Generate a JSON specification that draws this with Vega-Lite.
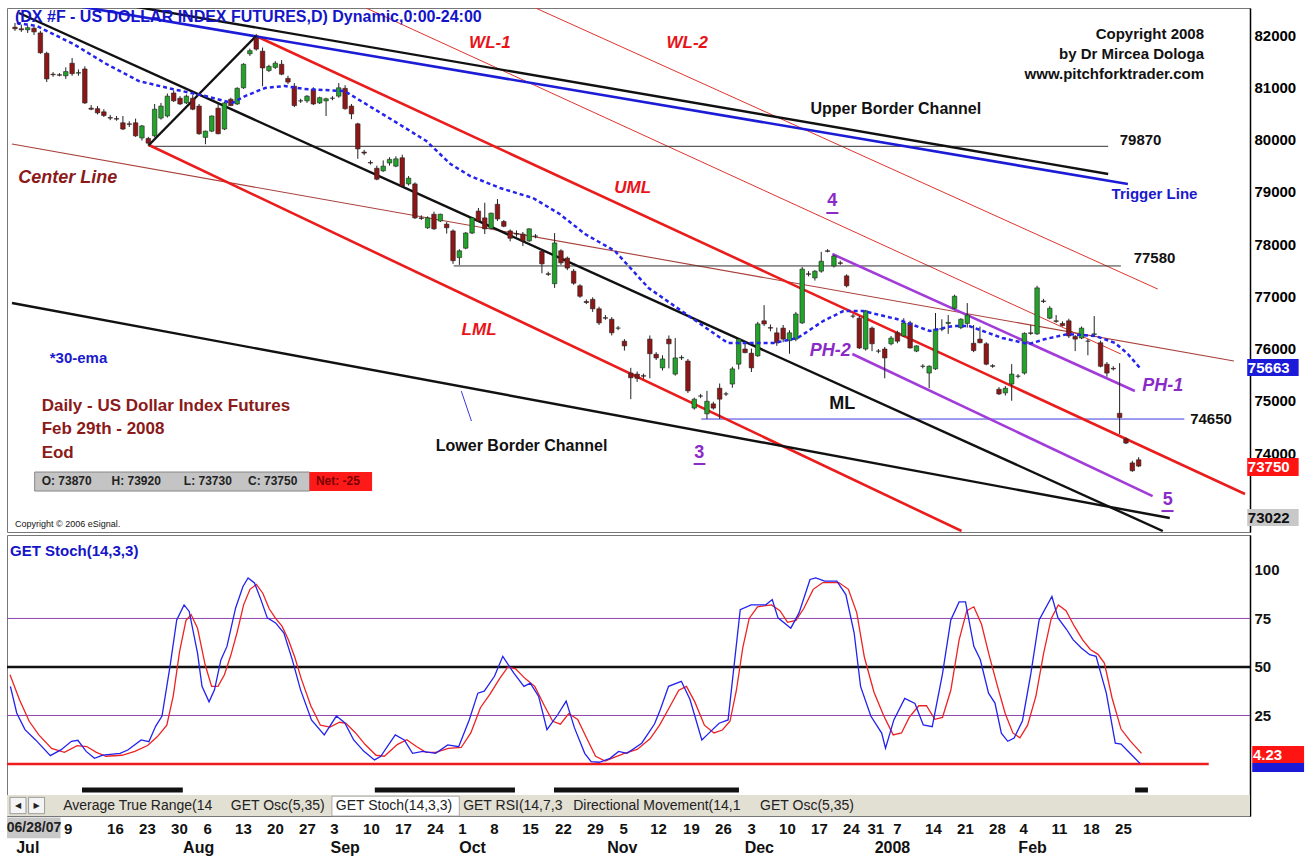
{
"$schema": "https://vega.github.io/schema/vega-lite/v6.json",
"background": "white",
"padding": {"left": 5, "top": 7, "right": 0, "bottom": 0},
"spacing": 1,
"config": {"view": {"stroke": "#777", "strokeWidth": 1}, "axis": {"grid": false, "zindex": 1}, "text": {"font": "Liberation Sans"}},
"datasets": {
"candles": [
{"i":0,"o":82150,"h":82230,"l":82080,"c":82120},{"i":1,"o":82120,"h":82200,"l":82060,"c":82100},{"i":2,"o":82100,"h":82180,"l":82040,"c":82140},{"i":3,"o":82130,"h":82160,"l":82000,"c":82060},{"i":4,"o":82040,"h":82080,"l":81640,"c":81660},{"i":5,"o":81650,"h":81680,"l":81100,"c":81160},{"i":6,"o":81250,"h":81290,"l":81200,"c":81240},{"i":7,"o":81240,"h":81270,"l":81210,"c":81230},{"i":8,"o":81220,"h":81380,"l":81160,"c":81300},{"i":9,"o":81460,"h":81560,"l":81220,"c":81260},
{"i":10,"o":81270,"h":81340,"l":81220,"c":81280},{"i":11,"o":81350,"h":81400,"l":80680,"c":80700},{"i":12,"o":80600,"h":80660,"l":80560,"c":80580},{"i":13,"o":80590,"h":80640,"l":80480,"c":80510},{"i":14,"o":80530,"h":80580,"l":80430,"c":80460},{"i":15,"o":80420,"h":80470,"l":80370,"c":80410},{"i":16,"o":80400,"h":80450,"l":80360,"c":80390},{"i":17,"o":80320,"h":80450,"l":80180,"c":80200},{"i":18,"o":80300,"h":80350,"l":80240,"c":80290},{"i":19,"o":80320,"h":80400,"l":80050,"c":80070},
{"i":20,"o":80030,"h":80280,"l":79980,"c":80260},{"i":21,"o":80020,"h":80050,"l":79870,"c":79930},{"i":22,"o":80070,"h":80680,"l":80040,"c":80580},{"i":23,"o":80410,"h":80700,"l":80380,"c":80640},{"i":24,"o":80450,"h":80880,"l":80420,"c":80830},{"i":25,"o":80890,"h":80940,"l":80720,"c":80740},{"i":26,"o":80790,"h":80830,"l":80660,"c":80680},{"i":27,"o":80700,"h":80860,"l":80680,"c":80830},{"i":28,"o":80790,"h":80850,"l":80560,"c":80580},{"i":29,"o":80640,"h":80680,"l":80090,"c":80110},
{"i":30,"o":80040,"h":80170,"l":79910,"c":80160},{"i":31,"o":80160,"h":80460,"l":80140,"c":80450},{"i":32,"o":80600,"h":80700,"l":80100,"c":80110},{"i":33,"o":80200,"h":80720,"l":80180,"c":80700},{"i":34,"o":80770,"h":80800,"l":80640,"c":80650},{"i":35,"o":80680,"h":81000,"l":80660,"c":80980},{"i":36,"o":80990,"h":81460,"l":80970,"c":81440},{"i":37,"o":81640,"h":81740,"l":81600,"c":81700},{"i":38,"o":81940,"h":82020,"l":81700,"c":81730},{"i":39,"o":81690,"h":81760,"l":81020,"c":81370},
{"i":40,"o":81320,"h":81430,"l":81290,"c":81400},{"i":41,"o":81380,"h":81500,"l":81350,"c":81460},{"i":42,"o":81440,"h":81520,"l":81230,"c":81250},{"i":43,"o":81170,"h":81220,"l":81060,"c":81100},{"i":44,"o":81020,"h":81080,"l":80620,"c":80650},{"i":45,"o":80740,"h":80780,"l":80700,"c":80740},{"i":46,"o":80740,"h":80850,"l":80700,"c":80830},{"i":47,"o":80960,"h":81000,"l":80660,"c":80680},{"i":48,"o":80700,"h":80820,"l":80680,"c":80800},{"i":49,"o":80740,"h":80800,"l":80450,"c":80780},
{"i":50,"o":80790,"h":80830,"l":80750,"c":80790},{"i":51,"o":80830,"h":81080,"l":80800,"c":80990},{"i":52,"o":80980,"h":81040,"l":80570,"c":80590},{"i":53,"o":80640,"h":80680,"l":80390,"c":80490},{"i":54,"o":80300,"h":80320,"l":79630,"c":79820},{"i":55,"o":79760,"h":79800,"l":79700,"c":79740},{"i":56,"o":79560,"h":79600,"l":79520,"c":79550},{"i":57,"o":79450,"h":79500,"l":79220,"c":79240},{"i":58,"o":79400,"h":79600,"l":79380,"c":79490},{"i":59,"o":79550,"h":79660,"l":79500,"c":79620},
{"i":60,"o":79490,"h":79680,"l":79470,"c":79630},{"i":61,"o":79650,"h":79710,"l":79090,"c":79110},{"i":62,"o":79150,"h":79300,"l":79120,"c":79260},{"i":63,"o":79150,"h":79180,"l":78480,"c":78500},{"i":64,"o":78500,"h":78550,"l":78460,"c":78490},{"i":65,"o":78310,"h":78530,"l":78290,"c":78500},{"i":66,"o":78570,"h":78620,"l":78270,"c":78290},{"i":67,"o":78440,"h":78580,"l":78420,"c":78570},{"i":68,"o":78380,"h":78420,"l":78200,"c":78310},{"i":69,"o":78250,"h":78280,"l":77620,"c":77680},
{"i":70,"o":77740,"h":77900,"l":77600,"c":77870},{"i":71,"o":77920,"h":78230,"l":77900,"c":78210},{"i":72,"o":78210,"h":78520,"l":78190,"c":78500},{"i":73,"o":78630,"h":78690,"l":78420,"c":78440},{"i":74,"o":78500,"h":78790,"l":78190,"c":78290},{"i":75,"o":78300,"h":78600,"l":78280,"c":78590},{"i":76,"o":78760,"h":78860,"l":78440,"c":78480},{"i":77,"o":78430,"h":78460,"l":78320,"c":78340},{"i":78,"o":78250,"h":78280,"l":78050,"c":78110},{"i":79,"o":78200,"h":78260,"l":78140,"c":78190},
{"i":80,"o":78190,"h":78230,"l":77960,"c":78060},{"i":81,"o":78060,"h":78300,"l":78040,"c":78290},{"i":82,"o":78150,"h":78190,"l":78110,"c":78150},{"i":83,"o":77860,"h":77900,"l":77440,"c":77620},{"i":84,"o":77430,"h":77470,"l":77390,"c":77420},{"i":85,"o":77240,"h":78210,"l":77160,"c":78020},{"i":86,"o":77870,"h":77900,"l":77600,"c":77640},{"i":87,"o":77730,"h":77760,"l":77500,"c":77540},{"i":88,"o":77480,"h":77520,"l":77220,"c":77250},{"i":89,"o":77200,"h":77230,"l":76970,"c":77000},
{"i":90,"o":76900,"h":76940,"l":76850,"c":76880},{"i":91,"o":76940,"h":76980,"l":76700,"c":76760},{"i":92,"o":76760,"h":76800,"l":76450,"c":76490},{"i":93,"o":76590,"h":76640,"l":76550,"c":76580},{"i":94,"o":76560,"h":76600,"l":76250,"c":76300},{"i":95,"o":76390,"h":76430,"l":76350,"c":76390},{"i":96,"o":76140,"h":76180,"l":75960,"c":76050},{"i":97,"o":75530,"h":75630,"l":75030,"c":75440},{"i":98,"o":75510,"h":75560,"l":75360,"c":75430},{"i":99,"o":75480,"h":75520,"l":75420,"c":75470},
{"i":100,"o":76180,"h":76250,"l":75430,"c":75900},{"i":101,"o":75890,"h":75930,"l":75780,"c":75820},{"i":102,"o":75630,"h":75870,"l":75580,"c":75800},{"i":103,"o":76180,"h":76250,"l":75620,"c":76090},{"i":104,"o":75510,"h":76200,"l":75480,"c":75820},{"i":105,"o":75820,"h":75870,"l":75780,"c":75830},{"i":106,"o":75760,"h":75800,"l":75150,"c":75190},{"i":107,"o":74860,"h":75060,"l":74830,"c":75030},{"i":108,"o":75090,"h":75130,"l":75050,"c":75090},{"i":109,"o":74750,"h":75190,"l":74650,"c":74990},
{"i":110,"o":74940,"h":74980,"l":74830,"c":74860},{"i":111,"o":75240,"h":75330,"l":74650,"c":75030},{"i":112,"o":75130,"h":75170,"l":75090,"c":75130},{"i":113,"o":75320,"h":75650,"l":75250,"c":75610},{"i":114,"o":75700,"h":76200,"l":75600,"c":76180},{"i":115,"o":75990,"h":76100,"l":75910,"c":75920},{"i":116,"o":75910,"h":76000,"l":75550,"c":75630},{"i":117,"o":75860,"h":76510,"l":75840,"c":76470},{"i":118,"o":76530,"h":76830,"l":76430,"c":76470},{"i":119,"o":76400,"h":76460,"l":76330,"c":76390},
{"i":120,"o":76300,"h":76400,"l":76050,"c":76110},{"i":121,"o":76390,"h":76450,"l":76120,"c":76180},{"i":122,"o":76150,"h":76350,"l":75900,"c":76300},{"i":123,"o":76180,"h":76700,"l":76140,"c":76660},{"i":124,"o":76490,"h":77560,"l":76470,"c":77520},{"i":125,"o":77430,"h":77480,"l":77380,"c":77420},{"i":126,"o":77350,"h":77500,"l":77300,"c":77480},{"i":127,"o":77480,"h":77850,"l":77450,"c":77670},{"i":128,"o":77870,"h":77900,"l":77840,"c":77860},{"i":129,"o":77580,"h":77790,"l":77550,"c":77770},
{"i":130,"o":77640,"h":77680,"l":77600,"c":77630},{"i":131,"o":77390,"h":77420,"l":77170,"c":77200},{"i":132,"o":76620,"h":76660,"l":76580,"c":76620},{"i":133,"o":76580,"h":76620,"l":75990,"c":76010},{"i":134,"o":75990,"h":76740,"l":75960,"c":76720},{"i":135,"o":76390,"h":76420,"l":75950,"c":76090},{"i":136,"o":75950,"h":75990,"l":75910,"c":75950},{"i":137,"o":75990,"h":76030,"l":75430,"c":75820},{"i":138,"o":76090,"h":76240,"l":76060,"c":76200},{"i":139,"o":76300,"h":76340,"l":76100,"c":76140},
{"i":140,"o":76240,"h":76580,"l":76220,"c":76490},{"i":141,"o":76490,"h":76530,"l":76000,"c":76010},{"i":142,"o":75950,"h":76060,"l":75930,"c":76050},{"i":143,"o":75660,"h":75700,"l":75620,"c":75660},{"i":144,"o":75530,"h":75680,"l":75240,"c":75660},{"i":145,"o":75610,"h":76680,"l":75590,"c":76370},{"i":146,"o":76370,"h":76560,"l":76330,"c":76380},{"i":147,"o":76480,"h":76640,"l":76280,"c":76500},{"i":148,"o":76770,"h":77030,"l":76750,"c":77000},{"i":149,"o":76400,"h":76580,"l":76370,"c":76560},
{"i":150,"o":76480,"h":76870,"l":76400,"c":76640},{"i":151,"o":76100,"h":76450,"l":75930,"c":75960},{"i":152,"o":76180,"h":76420,"l":76100,"c":76110},{"i":153,"o":76090,"h":76120,"l":75680,"c":75700},{"i":154,"o":75670,"h":75700,"l":75630,"c":75660},{"i":155,"o":75220,"h":75260,"l":75110,"c":75130},{"i":156,"o":75150,"h":75280,"l":75100,"c":75240},{"i":157,"o":75320,"h":75700,"l":75000,"c":75510},{"i":158,"o":75470,"h":75510,"l":75430,"c":75470},{"i":159,"o":75530,"h":76310,"l":75500,"c":76290},
{"i":160,"o":76300,"h":76450,"l":76260,"c":76290},{"i":161,"o":76280,"h":77200,"l":76260,"c":77160},{"i":162,"o":76910,"h":76950,"l":76870,"c":76900},{"i":163,"o":76580,"h":76810,"l":76560,"c":76770},{"i":164,"o":76530,"h":76640,"l":76490,"c":76520},{"i":165,"o":76480,"h":76520,"l":76420,"c":76440},{"i":166,"o":76530,"h":76570,"l":76200,"c":76240},{"i":167,"o":76230,"h":76260,"l":75950,"c":76180},{"i":168,"o":76200,"h":76420,"l":76180,"c":76390},{"i":169,"o":76140,"h":76180,"l":75870,"c":76140},
{"i":170,"o":76270,"h":76620,"l":76220,"c":76280},{"i":171,"o":76110,"h":76150,"l":75640,"c":75660},{"i":172,"o":75700,"h":75740,"l":75460,"c":75530},{"i":173,"o":75620,"h":75660,"l":75580,"c":75610},{"i":174,"o":74760,"h":75720,"l":74360,"c":74680},{"i":175,"o":74270,"h":74300,"l":74170,"c":74190},{"i":176,"o":73810,"h":73850,"l":73640,"c":73660},{"i":177,"o":73870,"h":73920,"l":73730,"c":73750}
],
"lines": [
{"k":"upper","i":-0.47,"p":82947},{"k":"upper","i":172.2,"p":79340},
{"k":"ml","i":0.63,"p":82421},{"k":"ml","i":180.8,"p":72507},
{"k":"handle","i":21.1,"p":79895},{"k":"handle","i":37.97,"p":81981},
{"k":"lower","i":-0.47,"p":76870},{"k":"lower","i":181.9,"p":72755},
{"k":"trigger","i":-0.47,"p":82766},{"k":"trigger","i":175.3,"p":79148},
{"k":"uml","i":37.97,"p":81981},{"k":"uml","i":193.75,"p":73215},
{"k":"lml","i":21.1,"p":79895},{"k":"lml","i":149.1,"p":72507},
{"k":"wl1","i":55.3,"p":82517},{"k":"wl1","i":174.2,"p":75894},
{"k":"wl2","i":82.0,"p":82517},{"k":"wl2","i":180,"p":77138},
{"k":"center","i":-0.47,"p":79914},{"k":"center","i":192,"p":75760},
{"k":"ph1","i":128.75,"p":77808},{"k":"ph1","i":176.4,"p":75186},
{"k":"ph2","i":131.9,"p":75894},{"k":"ph2","i":179.2,"p":73176},
{"k":"h79870","i":21.1,"p":79870},{"k":"h79870","i":172.2,"p":79870},
{"k":"h77580","i":69.1,"p":77580},{"k":"h77580","i":174.2,"p":77580},
{"k":"h74650","i":108.1,"p":74650},{"k":"h74650","i":184.2,"p":74650},
{"k":"pointer","i":70.3,"p":75186},{"k":"pointer","i":71.9,"p":74612}
],
"ema": [
{"i":0.31,"p":82230},{"i":3.44,"p":82172},{"i":9.2,"p":81828},{"i":14.4,"p":81445},{"i":19.5,"p":81120},{"i":24.8,"p":80966},{"i":30,"p":80832},{"i":34.2,"p":80698},{"i":36.25,"p":80832},{"i":39.4,"p":80986},{"i":42.5,"p":81024},{"i":45.6,"p":80966},{"i":51.9,"p":80928},{"i":54.5,"p":80737},{"i":59.7,"p":80354},{"i":64.8,"p":79971},{"i":68.6,"p":79531},{"i":71.7,"p":79301},{"i":76.4,"p":79072},{"i":81.6,"p":78880},{"i":85.8,"p":78574},{"i":89.8,"p":78191},{"i":94.5,"p":77866},{"i":99.8,"p":77158},{"i":106.6,"p":76583},{"i":112.3,"p":76105},{"i":115.5,"p":76105},{"i":119.5,"p":76105},{"i":123.3,"p":76201},{"i":127.3,"p":76526},{"i":130.5,"p":76717},{"i":133.6,"p":76717},{"i":138.9,"p":76564},{"i":144.1,"p":76335},{"i":147.7,"p":76430},{"i":150.3,"p":76430},{"i":155.5,"p":76201},{"i":159.7,"p":76086},{"i":162.3,"p":76182},{"i":165.9,"p":76277},{"i":170.2,"p":76239},{"i":173.3,"p":76105},{"i":175.3,"p":75894},{"i":177.2,"p":75627}
],
"stochK": [
{"i":0.06,"v":40},{"i":1.05,"v":26.3},{"i":2.34,"v":17.7},{"i":4.0,"v":12.4},{"i":6.3,"v":4.3},{"i":8.0,"v":7.4},{"i":9.6,"v":11.7},{"i":10.6,"v":12.2},{"i":11.9,"v":6.5},{"i":13.2,"v":2.9},{"i":14.5,"v":4.6},{"i":17.2,"v":5.5},{"i":18.4,"v":7.2},{"i":20.5,"v":12.4},{"i":21.7,"v":11.5},{"i":22.75,"v":19.4},{"i":23.75,"v":24.7},{"i":25,"v":50.3},{"i":26.05,"v":74.2},{"i":27.2,"v":82},{"i":28,"v":78.6},{"i":29.3,"v":57.1},{"i":30,"v":40},{"i":31.1,"v":32},{"i":31.95,"v":38.2},{"i":32.95,"v":53.6},{"i":33.9,"v":60.6},{"i":35.25,"v":80.4},{"i":36.4,"v":91.5},{"i":37.2,"v":95.9},{"i":38.2,"v":93.3},{"i":39.2,"v":84.7},{"i":40.2,"v":75.3},{"i":41.5,"v":72.7},{"i":42.8,"v":67.5},{"i":44.1,"v":53.8},{"i":45.4,"v":38.2},{"i":47.1,"v":22.7},{"i":49.1,"v":15},{"i":51.0,"v":24.7},{"i":52.3,"v":21.3},{"i":53.7,"v":12.4},{"i":55.3,"v":6.5},{"i":56.95,"v":2.1},{"i":57.9,"v":3.8},{"i":60.2,"v":15},{"i":61.6,"v":12.4},{"i":62.9,"v":5.5},{"i":64.5,"v":6.5},{"i":66.5,"v":5.5},{"i":68.4,"v":9.8},{"i":70.1,"v":8.9},{"i":71.75,"v":22.7},{"i":73.1,"v":36.5},{"i":74.1,"v":37.5},{"i":75.7,"v":45.2},{"i":77,"v":55.5},{"i":78.7,"v":46.9},{"i":80.3,"v":40},{"i":81.3,"v":41.7},{"i":82.6,"v":34.8},{"i":83.9,"v":17.7},{"i":85.6,"v":25.5},{"i":86.9,"v":32.4},{"i":88.2,"v":18.6},{"i":89.8,"v":5.5},{"i":90.8,"v":1.2},{"i":92.1,"v":0.9},{"i":93.75,"v":2.9},{"i":95.1,"v":6.5},{"i":96.4,"v":5.5},{"i":98.7,"v":10.7},{"i":100.7,"v":20.6},{"i":101.6,"v":28},{"i":102.9,"v":40},{"i":104.9,"v":42.6},{"i":106.25,"v":33.2},{"i":108.1,"v":12.4},{"i":109.2,"v":15.9},{"i":110.8,"v":21},{"i":112.2,"v":22.7},{"i":114.1,"v":79.5},{"i":115.8,"v":82},{"i":118.1,"v":82},{"i":119.1,"v":84.7},{"i":120,"v":75.3},{"i":122,"v":70},{"i":123.3,"v":78},{"i":125,"v":95.1},{"i":125.9,"v":95.9},{"i":127.3,"v":94.2},{"i":129.2,"v":94.2},{"i":130.6,"v":87.3},{"i":131.9,"v":67.5},{"i":132.9,"v":40},{"i":134.5,"v":24.7},{"i":136.2,"v":15.9},{"i":136.8,"v":8.1},{"i":138.1,"v":22.7},{"i":139.8,"v":33.8},{"i":141.4,"v":31.2},{"i":142.7,"v":20.1},{"i":144.1,"v":19.2},{"i":145.7,"v":46.4},{"i":147,"v":74.2},{"i":148.3,"v":83.5},{"i":149.3,"v":83.5},{"i":150.6,"v":60.6},{"i":151.6,"v":53.8},{"i":152.9,"v":36.5},{"i":153.9,"v":31.4},{"i":154.9,"v":15.9},{"i":155.9,"v":11.7},{"i":156.9,"v":13.4},{"i":158.2,"v":22.3},{"i":159.5,"v":46.4},{"i":160.8,"v":74.2},{"i":162.8,"v":86.3},{"i":163.75,"v":75.3},{"i":165.1,"v":69.3},{"i":166.1,"v":64.1},{"i":167.4,"v":59.8},{"i":168.7,"v":56.3},{"i":169.7,"v":55.5},{"i":171.3,"v":36.5},{"i":172.7,"v":10.7},{"i":173.6,"v":10.3},{"i":175,"v":5.5},{"i":176.6,"v":0.2}
],
"stochD": [
{"i":0,"v":46},{"i":1.5,"v":33},{"i":3,"v":22},{"i":4.5,"v":15},{"i":6.5,"v":8},{"i":8.5,"v":6},{"i":10.5,"v":9.5},{"i":12,"v":9},{"i":13.5,"v":6},{"i":15,"v":4},{"i":17.5,"v":4.5},{"i":19.5,"v":6.5},{"i":21.5,"v":9.5},{"i":23,"v":14},{"i":24.5,"v":20},{"i":25.5,"v":35},{"i":26.5,"v":58},{"i":27.5,"v":74},{"i":28.3,"v":77},{"i":29.3,"v":70},{"i":30.5,"v":51},{"i":31.5,"v":40},{"i":32.5,"v":40},{"i":33.5,"v":46},{"i":34.5,"v":56},{"i":35.5,"v":68},{"i":36.5,"v":82},{"i":37.5,"v":90},{"i":38.5,"v":92.5},{"i":39.5,"v":88},{"i":40.5,"v":80},{"i":41.5,"v":75},{"i":42.5,"v":71},{"i":43.5,"v":64},{"i":44.5,"v":55},{"i":45.5,"v":44},{"i":47,"v":30},{"i":48.5,"v":20},{"i":50,"v":19},{"i":51.5,"v":21.5},{"i":52.5,"v":21},{"i":54,"v":16},{"i":55.5,"v":10},{"i":57.2,"v":4.5},{"i":58.5,"v":4},{"i":60.5,"v":10},{"i":62,"v":12.5},{"i":63.5,"v":9},{"i":65,"v":6},{"i":66.5,"v":6},{"i":68.5,"v":8},{"i":70.5,"v":8.5},{"i":72,"v":16},{"i":73.5,"v":29},{"i":75,"v":36},{"i":76.5,"v":44},{"i":77.8,"v":50},{"i":79,"v":49},{"i":80.5,"v":44},{"i":82,"v":40},{"i":83.5,"v":30},{"i":84.8,"v":22},{"i":86,"v":20.5},{"i":87.3,"v":26},{"i":88.7,"v":23},{"i":90.3,"v":12},{"i":91.5,"v":4},{"i":93,"v":1.5},{"i":94.5,"v":3.5},{"i":96,"v":5.5},{"i":98,"v":7.5},{"i":100,"v":13},{"i":101.5,"v":20},{"i":103,"v":29},{"i":104.5,"v":38},{"i":105.7,"v":40},{"i":107,"v":32},{"i":108.5,"v":20},{"i":110,"v":16},{"i":111.3,"v":17.5},{"i":112.5,"v":22},{"i":113.5,"v":38},{"i":114.5,"v":60},{"i":115.5,"v":75},{"i":116.8,"v":81},{"i":119,"v":82},{"i":120.3,"v":79},{"i":121.5,"v":73},{"i":122.8,"v":74},{"i":124,"v":80},{"i":125.5,"v":90},{"i":127,"v":93.5},{"i":129.5,"v":93.5},{"i":131,"v":90},{"i":132.3,"v":78},{"i":133.5,"v":55},{"i":135,"v":37},{"i":136.5,"v":25},{"i":138,"v":15},{"i":139.3,"v":16},{"i":140.5,"v":24},{"i":142,"v":30},{"i":143.2,"v":30},{"i":144.5,"v":23},{"i":145.7,"v":24},{"i":147,"v":38},{"i":148.3,"v":64},{"i":149.5,"v":79},{"i":150.6,"v":81},{"i":151.8,"v":72},{"i":153,"v":56},{"i":154.3,"v":40},{"i":155.5,"v":26},{"i":156.7,"v":16},{"i":157.8,"v":13.5},{"i":159,"v":20},{"i":160.3,"v":35},{"i":161.5,"v":57},{"i":162.7,"v":75},{"i":163.8,"v":82},{"i":165,"v":79},{"i":166.3,"v":71},{"i":167.6,"v":64},{"i":168.8,"v":59},{"i":170,"v":56.5},{"i":171,"v":52},{"i":172.2,"v":34},{"i":173.6,"v":18},{"i":175,"v":12},{"i":176.8,"v":5.5}
]
},
"vconcat": [
{
"width": 1243, "height": 524,
"encoding": {
 "x": {"field": "i", "type": "quantitative", "scale": {"domain": [-0.47, 193.75], "nice": false, "zero": false}, "axis": null},
 "y": {"field": "p", "type": "quantitative", "scale": {"domain": [72488, 82517], "nice": false, "zero": false}, "axis": null}
},
"resolve": {"axis": {"x": "independent", "y": "independent"}},
"layer": [
 {"data": {"name": "lines"}, "transform": [{"filter": {"field": "k", "oneOf": ["wl1", "wl2"]}}], "mark": {"type": "line", "color": "#e0342e", "strokeWidth": 1, "clip": true}, "encoding": {"detail": {"field": "k"}}},
 {"data": {"name": "lines"}, "transform": [{"filter": {"field": "k", "equal": "center"}}], "mark": {"type": "line", "color": "#a8403a", "strokeWidth": 1.1, "clip": true}, "encoding": {"detail": {"field": "k"}}},
 {"data": {"name": "lines"}, "transform": [{"filter": {"field": "k", "oneOf": ["h79870", "h77580"]}}], "mark": {"type": "line", "color": "#333333", "strokeWidth": 1, "clip": true}, "encoding": {"detail": {"field": "k"}}},
 {"data": {"name": "lines"}, "transform": [{"filter": {"field": "k", "oneOf": ["h74650", "pointer"]}}], "mark": {"type": "line", "color": "#3a3ae0", "strokeWidth": 1, "clip": true}, "encoding": {"detail": {"field": "k"}}},
 {"data": {"name": "lines"}, "transform": [{"filter": {"field": "k", "oneOf": ["uml", "lml"]}}], "mark": {"type": "line", "color": "#ea1c1c", "strokeWidth": 2.6, "clip": true}, "encoding": {"detail": {"field": "k"}}},
 {"data": {"name": "lines"}, "transform": [{"filter": {"field": "k", "oneOf": ["ph1", "ph2"]}}], "mark": {"type": "line", "color": "#a23cd8", "strokeWidth": 2.6, "clip": true}, "encoding": {"detail": {"field": "k"}}},
 {"data": {"name": "lines"}, "transform": [{"filter": {"field": "k", "equal": "trigger"}}], "mark": {"type": "line", "color": "#1c1cd6", "strokeWidth": 2.6, "clip": true}, "encoding": {"detail": {"field": "k"}}},
 {"data": {"name": "lines"}, "transform": [{"filter": {"field": "k", "oneOf": ["upper", "ml", "handle", "lower"]}}], "mark": {"type": "line", "color": "#111111", "strokeWidth": 2.4, "clip": true}, "encoding": {"detail": {"field": "k"}}},
 {"data": {"name": "candles"}, "mark": {"type": "rule", "color": "#222222", "strokeWidth": 1}, "encoding": {"y": {"field": "l", "type": "quantitative", "scale": {"domain": [72488, 82517], "nice": false, "zero": false}, "axis": null}, "y2": {"field": "h"}}},
 {"data": {"name": "candles"}, "mark": {"type": "bar", "size": 4.5, "stroke": "#222222", "strokeWidth": 0.6},
  "encoding": {
   "y": {"field": "o", "type": "quantitative", "scale": {"domain": [72488, 82517], "nice": false, "zero": false},
         "axis": {"orient": "right", "values": [74000, 75000, 76000, 77000, 78000, 79000, 80000, 81000, 82000], "format": "d", "labelFont": "Liberation Sans", "labelFontSize": 15, "labelFontWeight": "bold", "labelColor": "#000000", "ticks": false, "tickSize": 0, "domainColor": "#000000", "domainWidth": 1.5, "labelPadding": 4, "title": null}},
   "y2": {"field": "c"},
   "color": {"condition": {"test": "datum.c >= datum.o", "value": "#22a32a"}, "value": "#8e1616"}
  }},
 {"data": {"name": "ema"}, "mark": {"type": "line", "color": "#2424ee", "strokeWidth": 2.5, "strokeDash": [4, 3], "clip": true}},
 {"data": {"values": [{"i": 127.8, "i2": 129.7, "p": 78593}, {"i": 106.9, "i2": 108.75, "p": 73789}, {"i": 180.6, "i2": 182.5, "p": 72889}]}, "mark": {"type": "rule", "color": "#8a2bc8", "strokeWidth": 2}, "encoding": {"x2": {"field": "i2"}}},
 {"data": {"values": [{"i": 3.1, "i2": 46.4, "p": 73272, "p2": 73636}]}, "mark": {"type": "rect", "fill": "#c4c4c4", "stroke": "#888888", "strokeWidth": 1}, "encoding": {"x2": {"field": "i2"}, "y2": {"field": "p2"}}},
 {"data": {"values": [{"i": 46.4, "i2": 56.25, "p": 73272, "p2": 73636}]}, "mark": {"type": "rect", "fill": "#ff1a1a"}, "encoding": {"x2": {"field": "i2"}, "y2": {"field": "p2"}}},
 {"data": {"values": [{"i": 194.1, "i2": 202.2, "p": 75473, "p2": 75799}]}, "mark": {"type": "rect", "fill": "#1a1ad8"}, "encoding": {"x2": {"field": "i2"}, "y2": {"field": "p2"}}},
 {"data": {"values": [{"i": 194.1, "i2": 202.2, "p": 73559, "p2": 73904}]}, "mark": {"type": "rect", "fill": "#ff1414"}, "encoding": {"x2": {"field": "i2"}, "y2": {"field": "p2"}}},
 {"data": {"values": [{"i": 194.1, "i2": 202.2, "p": 72602, "p2": 72928}]}, "mark": {"type": "rect", "fill": "#c8c8c8"}, "encoding": {"x2": {"field": "i2"}, "y2": {"field": "p2"}}},
 {"data": {"values": [{"t": "(DX #F - US DOLLAR INDEX FUTURES,D) Dynamic,0:00-24:00", "i": 0, "p": 82345}]}, "mark": {"type": "text", "font": "Liberation Sans", "fontSize": 16, "fontWeight": "bold", "color": "#1414c8", "align": "left", "baseline": "middle"}, "encoding": {"text": {"field": "t"}}},
 {"data": {"values": [{"t": "Copyright 2008", "i": 187.3, "p": 82019}, {"t": "by Dr Mircea Dologa", "i": 187.3, "p": 81636}, {"t": "www.pitchforktrader.com", "i": 187.3, "p": 81254}]}, "mark": {"type": "text", "font": "Liberation Sans", "fontSize": 15, "fontWeight": "bold", "color": "#111111", "align": "right", "baseline": "middle"}, "encoding": {"text": {"field": "t"}}},
 {"data": {"values": [{"t": "Upper Border Channel", "i": 138.75, "p": 80584}, {"t": "Lower Border Channel", "i": 79.8, "p": 74133}]}, "mark": {"type": "text", "font": "Liberation Sans", "fontSize": 16, "fontWeight": "bold", "color": "#111111", "align": "center", "baseline": "middle"}, "encoding": {"text": {"field": "t"}}},
 {"data": {"values": [{"t": "ML", "i": 130.3, "p": 74937}]}, "mark": {"type": "text", "font": "Liberation Sans", "fontSize": 18, "fontWeight": "bold", "color": "#111111", "align": "center", "baseline": "middle"}, "encoding": {"text": {"field": "t"}}},
 {"data": {"values": [{"t": "79870", "i": 177.3, "p": 79990}, {"t": "77580", "i": 179.5, "p": 77732}, {"t": "74650", "i": 188.4, "p": 74650}]}, "mark": {"type": "text", "font": "Liberation Sans", "fontSize": 15, "fontWeight": "bold", "color": "#111111", "align": "center", "baseline": "middle"}, "encoding": {"text": {"field": "t"}}},
 {"data": {"values": [{"t": "Trigger Line", "i": 179.5, "p": 78957}, {"t": "*30-ema", "i": 10, "p": 75818}]}, "mark": {"type": "text", "font": "Liberation Sans", "fontSize": 15, "fontWeight": "bold", "color": "#1a1acc", "align": "center", "baseline": "middle"}, "encoding": {"text": {"field": "t"}}},
 {"data": {"values": [{"t": "WL-1", "i": 74.8, "p": 81847}, {"t": "WL-2", "i": 105.9, "p": 81847}, {"t": "UML", "i": 97.3, "p": 79072}, {"t": "LML", "i": 73.1, "p": 76354}]}, "mark": {"type": "text", "font": "Liberation Sans", "fontSize": 17, "fontWeight": "bold", "fontStyle": "italic", "color": "#e8141a", "align": "center", "baseline": "middle"}, "encoding": {"text": {"field": "t"}}},
 {"data": {"values": [{"t": "Center Line", "i": 8.3, "p": 79263}]}, "mark": {"type": "text", "font": "Liberation Sans", "fontSize": 18, "fontWeight": "bold", "fontStyle": "italic", "color": "#8b1a1a", "align": "center", "baseline": "middle"}, "encoding": {"text": {"field": "t"}}},
 {"data": {"values": [{"t": "PH-2", "i": 128.4, "p": 75952}, {"t": "PH-1", "i": 180.8, "p": 75282}]}, "mark": {"type": "text", "font": "Liberation Sans", "fontSize": 18, "fontWeight": "bold", "fontStyle": "italic", "color": "#8a2bc8", "align": "center", "baseline": "middle"}, "encoding": {"text": {"field": "t"}}},
 {"data": {"values": [{"t": "4", "i": 128.75, "p": 78823}, {"t": "3", "i": 107.8, "p": 73999}, {"t": "5", "i": 181.6, "p": 73100}]}, "mark": {"type": "text", "font": "Liberation Sans", "fontSize": 18, "fontWeight": "bold", "color": "#8a2bc8", "align": "center", "baseline": "middle"}, "encoding": {"text": {"field": "t"}}},
 {"data": {"values": [{"t": "Daily - US Dollar Index Futures", "i": 4.2, "p": 74899}, {"t": "Feb 29th - 2008", "i": 4.2, "p": 74459}, {"t": "Eod", "i": 4.2, "p": 73999}]}, "mark": {"type": "text", "font": "Liberation Sans", "fontSize": 17, "fontWeight": "bold", "color": "#8b1a1a", "align": "left", "baseline": "middle"}, "encoding": {"text": {"field": "t"}}},
 {"data": {"values": [{"t": "O: 73870", "i": 4.2, "p": 73464}, {"t": "H: 73920", "i": 15.2, "p": 73464}, {"t": "L: 73730", "i": 26.6, "p": 73464}, {"t": "C: 73750", "i": 36.7, "p": 73464}]}, "mark": {"type": "text", "font": "Liberation Sans", "fontSize": 12, "fontWeight": "bold", "color": "#222222", "align": "left", "baseline": "middle"}, "encoding": {"text": {"field": "t"}}},
 {"data": {"values": [{"t": "Net: -25", "i": 47.4, "p": 73464}]}, "mark": {"type": "text", "font": "Liberation Sans", "fontSize": 12, "fontWeight": "bold", "color": "#7a0000", "align": "left", "baseline": "middle"}, "encoding": {"text": {"field": "t"}}},
 {"data": {"values": [{"t": "Copyright © 2006 eSignal.", "i": 0, "p": 72640}]}, "mark": {"type": "text", "font": "Liberation Sans", "fontSize": 9, "color": "#111111", "align": "left", "baseline": "middle"}, "encoding": {"text": {"field": "t"}}},
 {"data": {"values": [{"t": "75663", "i": 194.2, "p": 75627}, {"t": "73750", "i": 194.2, "p": 73732}]}, "mark": {"type": "text", "font": "Liberation Sans", "fontSize": 15, "fontWeight": "bold", "color": "#ffffff", "align": "left", "baseline": "middle"}, "encoding": {"text": {"field": "t"}}},
 {"data": {"values": [{"t": "73022", "i": 194.2, "p": 72765}]}, "mark": {"type": "text", "font": "Liberation Sans", "fontSize": 15, "fontWeight": "bold", "color": "#111111", "align": "left", "baseline": "middle"}, "encoding": {"text": {"field": "t"}}}
]
},
{
"width": 1243, "height": 281,
"encoding": {
 "x": {"field": "i", "type": "quantitative", "scale": {"domain": [-0.47, 193.75], "nice": false, "zero": false}, "axis": null},
 "y": {"field": "v", "type": "quantitative", "scale": {"domain": [-26.8, 118], "nice": false, "zero": false}, "axis": null}
},
"resolve": {"axis": {"x": "independent", "y": "independent"}},
"layer": [
 {"data": {"values": [{"i": -0.47, "i2": 193.75, "v": -26.8, "v2": -16}]}, "mark": {"type": "rect", "fill": "#e2dfd3"}, "encoding": {"x2": {"field": "i2"}, "y2": {"field": "v2"}}},
 {"data": {"values": [{"i": 50.3, "i2": 70.2, "v": -26.8, "v2": -16.6}]}, "mark": {"type": "rect", "fill": "#ffffff", "stroke": "#999999", "strokeWidth": 0.8}, "encoding": {"x2": {"field": "i2"}, "y2": {"field": "v2"}}},
 {"data": {"values": [{"i": 0.0, "i2": 2.5, "v": -25.6, "v2": -17.2}, {"i": 2.9, "i2": 5.4, "v": -25.6, "v2": -17.2}]}, "mark": {"type": "rect", "fill": "#f4f4f4", "stroke": "#888888", "strokeWidth": 0.8}, "encoding": {"x2": {"field": "i2"}, "y2": {"field": "v2"}}},
 {"data": {"values": [{"t": "◀", "i": 1.25, "v": -21.4}, {"t": "▶", "i": 4.15, "v": -21.4}]}, "mark": {"type": "text", "font": "DejaVu Sans", "fontSize": 8, "color": "#222222", "align": "center", "baseline": "middle"}, "encoding": {"text": {"field": "t"}}},
 {"data": {"values": [{"t": "Average True Range(14", "i": 8.3, "v": -21.6}, {"t": "GET Osc(5,35)", "i": 34.5, "v": -21.6}, {"t": "GET Stoch(14,3,3)", "i": 50.9, "v": -21.6}, {"t": "GET RSI(14,7,3", "i": 70.8, "v": -21.6}, {"t": "Directional Movement(14,1", "i": 88, "v": -21.6}, {"t": "GET Osc(5,35)", "i": 117.2, "v": -21.6}]}, "mark": {"type": "text", "font": "Liberation Sans", "fontSize": 14, "color": "#222222", "align": "left", "baseline": "middle"}, "encoding": {"text": {"field": "t"}}},
 {"data": {"values": [{"i": -0.47, "i2": 193.75, "v": 75}, {"i": -0.47, "i2": 193.75, "v": 25}]}, "mark": {"type": "rule", "color": "#8e44ad", "strokeWidth": 1}, "encoding": {"x2": {"field": "i2"}}},
 {"data": {"values": [{"i": -0.47, "i2": 193.75, "v": 50}]}, "mark": {"type": "rule", "color": "#111111", "strokeWidth": 2.4}, "encoding": {"x2": {"field": "i2"}}},
 {"data": {"values": [{"i": -0.47, "i2": 187.3, "v": 0}]}, "mark": {"type": "rule", "color": "#ee1c1c", "strokeWidth": 2.4}, "encoding": {"x2": {"field": "i2"}}},
 {"data": {"values": [{"i": 11.25, "i2": 27, "v": -13.4}, {"i": 57, "i2": 78.9, "v": -13.4}, {"i": 85, "i2": 113.9, "v": -13.4}, {"i": 175.8, "i2": 177.8, "v": -13.4}]}, "mark": {"type": "rule", "color": "#111111", "strokeWidth": 5}, "encoding": {"x2": {"field": "i2"}}},
 {"data": {"values": [{"i": -0.47, "i2": 7.9, "v": -27.6, "v2": -38.3}]}, "mark": {"type": "rect", "fill": "#c8c8c8"}, "encoding": {"x2": {"field": "i2"}, "y2": {"field": "v2"}}},
 {"data": {"values": [{"t": "06/28/07", "i": 3.75, "v": -32.9}]}, "mark": {"type": "text", "font": "Liberation Sans", "fontSize": 14, "fontWeight": "bold", "color": "#222222", "align": "center", "baseline": "middle"}, "encoding": {"text": {"field": "t"}}},
 {"data": {"name": "stochD"}, "mark": {"type": "line", "color": "#ee2222", "strokeWidth": 1.3},
  "encoding": {"x": {"field": "i", "type": "quantitative", "scale": {"domain": [-0.47, 193.75], "nice": false, "zero": false},
    "axis": {"orient": "bottom", "offset": 18, "values": [2.7, 29.4, 52.3, 72.2, 95.6, 117, 137.8, 159.7], "labelExpr": "['Jul','Aug','Sep','Oct','Nov','Dec','2008','Feb'][indexof([2.7, 29.4, 52.3, 72.2, 95.6, 117, 137.8, 159.7], datum.value)]", "labelFont": "Liberation Sans", "labelFontSize": 16, "labelFontWeight": "bold", "labelColor": "#111111", "ticks": false, "tickSize": 0, "domain": false, "labelPadding": 5, "labelFlush": false, "labelOverlap": false, "labelBaseline": "top", "title": null}}}},
 {"data": {"name": "stochK"}, "mark": {"type": "line", "color": "#2222ee", "strokeWidth": 1.3},
  "encoding": {"x": {"field": "i", "type": "quantitative", "scale": {"domain": [-0.47, 193.75], "nice": false, "zero": false},
    "axis": {"orient": "bottom", "values": [9.0, 16.4, 21.4, 26.4, 30.8, 36.4, 41.4, 46.4, 50.6, 56.4, 61.4, 66.4, 70.6, 75.6, 81.25, 86.4, 91.4, 95.8, 101.25, 106.4, 111.4, 115.8, 121.4, 126.4, 131.4, 135.2, 138.6, 144.2, 149.2, 154.2, 158.3, 163.9, 168.9, 173.9], "labelExpr": "['9','16','23','30','6','13','20','27','3','10','17','24','1','8','15','22','29','5','12','19','26','3','10','17','24','31','7','14','21','28','4','11','18','25'][indexof([9.0, 16.4, 21.4, 26.4, 30.8, 36.4, 41.4, 46.4, 50.6, 56.4, 61.4, 66.4, 70.6, 75.6, 81.25, 86.4, 91.4, 95.8, 101.25, 106.4, 111.4, 115.8, 121.4, 126.4, 131.4, 135.2, 138.6, 144.2, 149.2, 154.2, 158.3, 163.9, 168.9, 173.9], datum.value)]", "labelFont": "Liberation Sans", "labelFontSize": 15, "labelFontWeight": "bold", "labelColor": "#111111", "ticks": false, "tickSize": 0, "domain": false, "labelPadding": 5, "labelFlush": false, "labelOverlap": false, "labelBaseline": "top", "title": null}},
   "y": {"field": "v", "type": "quantitative", "scale": {"domain": [-26.8, 118], "nice": false, "zero": false},
    "axis": {"orient": "right", "values": [25, 50, 75, 100], "labelFont": "Liberation Sans", "labelFontSize": 15, "labelFontWeight": "bold", "labelColor": "#111111", "ticks": false, "tickSize": 0, "domainColor": "#000000", "domainWidth": 1.5, "labelPadding": 4, "title": null}}}},
 {"data": {"values": [{"t": "GET Stoch(14,3,3)", "i": 0, "v": 109.8}]}, "mark": {"type": "text", "font": "Liberation Sans", "fontSize": 15, "fontWeight": "bold", "color": "#1414c8", "align": "left", "baseline": "middle"}, "encoding": {"text": {"field": "t"}}},
 {"data": {"values": [{"i": 194.1, "i2": 202.2, "v": 0.5, "v2": 9.3}]}, "mark": {"type": "rect", "fill": "#ff1414"}, "encoding": {"x2": {"field": "i2"}, "y2": {"field": "v2"}}},
 {"data": {"values": [{"i": 194.1, "i2": 202.2, "v": -4.1, "v2": 0.5}]}, "mark": {"type": "rect", "fill": "#1a1ad8"}, "encoding": {"x2": {"field": "i2"}, "y2": {"field": "v2"}}},
 {"data": {"values": [{"t": "4.23", "i": 194.2, "v": 4.6}]}, "mark": {"type": "text", "font": "Liberation Sans", "fontSize": 15, "fontWeight": "bold", "color": "#ffffff", "align": "left", "baseline": "middle"}, "encoding": {"text": {"field": "t"}}}
]
}
]
}
